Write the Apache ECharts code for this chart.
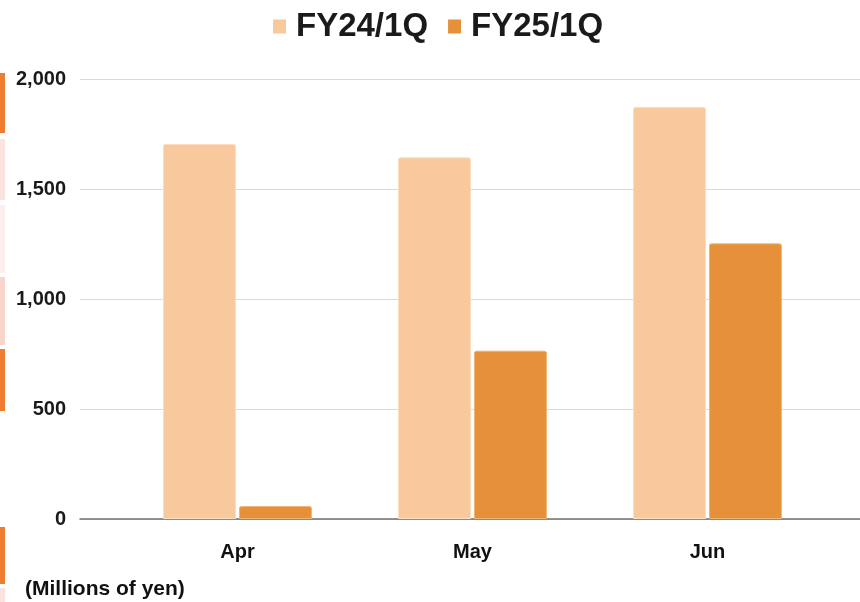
<!DOCTYPE html>
<html>
<head>
<meta charset="utf-8">
<script src="https://cdn.jsdelivr.net/npm/echarts@6/dist/echarts.min.js"></script>
<style>
html,body{margin:0;padding:0;background:#fff;}
#chart{width:860px;height:602px;}
</style>
</head>
<body>
<div id="chart"></div>
<script>
const categories = ['Apr', 'May', 'Jun'];
const seriesNames = ['FY24/1Q', 'FY25/1Q'];
const fy24 = [1705, 1644, 1873];
const fy25 = [59, 765, 1253];
const yTicks = [0, 500, 1000, 1500, 2000];
const unitLabel = '(Millions of yen)';

const FONT = "'Liberation Sans', Arial, Helvetica, sans-serif";
const chart = echarts.init(document.getElementById('chart'), null, {renderer: 'canvas'});

const leftStrips = [
  [73, 133, '#EE7D31'],
  [139, 200, '#FBE4DD'],
  [205, 273, '#FDF0EC'],
  [277, 345, '#F9D6CC'],
  [349, 411, '#EE7D31'],
  [527, 584, '#EE7D31'],
  [588, 602, '#FBE4DD']
];

const option = {
  backgroundColor: '#ffffff',
  animation: false,
  legend: {
    top: 5,
    left: 268,
    itemWidth: 13,
    itemHeight: 14,
    itemGap: 20,
    icon: 'rect',
    itemStyle: {borderWidth: 0},
    textStyle: {fontFamily: FONT, fontWeight: 'bold', fontSize: 33, color: '#1a1a1a', padding: [0, 0, 0, 5]},
    data: seriesNames
  },
  grid: [
    {left: 80, right: 0, top: 79, bottom: 83},
    {left: 120, right: 35, top: 79, bottom: 83}
  ],
  xAxis: [
    {
      gridIndex: 0, type: 'category', data: [''],
      axisLine: {show: true, lineStyle: {color: '#707070', width: 1.5}},
      axisTick: {show: false}, axisLabel: {show: false}, splitLine: {show: false}
    },
    {
      gridIndex: 1, type: 'category', data: categories,
      axisLine: {show: false}, axisTick: {show: false},
      axisLabel: {margin: 23, fontFamily: FONT, fontWeight: 'bold', fontSize: 20, color: '#111'}
    }
  ],
  yAxis: [
    {
      gridIndex: 0, type: 'value', min: yTicks[0], max: yTicks[yTicks.length - 1], interval: yTicks[1] - yTicks[0],
      axisLine: {show: false}, axisTick: {show: false},
      axisLabel: {margin: 14, fontFamily: FONT, fontWeight: 'bold', fontSize: 20, color: '#1a1a1a',
        formatter: v => v.toLocaleString('en-US')},
      splitLine: {show: true, lineStyle: {color: '#d9d9d9', width: 1}}
    },
    {
      gridIndex: 1, type: 'value', min: yTicks[0], max: yTicks[yTicks.length - 1], interval: yTicks[1] - yTicks[0],
      show: false, splitLine: {show: false}
    }
  ],
  series: [
    {
      name: seriesNames[0], type: 'bar', xAxisIndex: 1, yAxisIndex: 1, data: fy24,
      barWidth: 73, barGap: '4%',
      itemStyle: {color: '#F8C99C', borderColor: '#FBDDC0', borderWidth: 1, borderRadius: [2, 2, 0, 0]}
    },
    {
      name: seriesNames[1], type: 'bar', xAxisIndex: 1, yAxisIndex: 1, data: fy25,
      barWidth: 73, barGap: '4%',
      itemStyle: {color: '#E6913A', borderColor: '#EFB478', borderWidth: 1, borderRadius: [2, 2, 0, 0]}
    }
  ],
  graphic: [
    {
      type: 'text', left: 25, top: 579,
      style: {text: unitLabel, fontFamily: FONT, fontWeight: 'bold', fontSize: 21, fill: '#111'}
    }
  ].concat(leftStrips.map(s => ({
    type: 'rect', shape: {x: 0, y: s[0], width: 5, height: s[1] - s[0]},
    style: {fill: s[2]}, silent: true
  })))
};
chart.setOption(option);
</script>
</body>
</html>
